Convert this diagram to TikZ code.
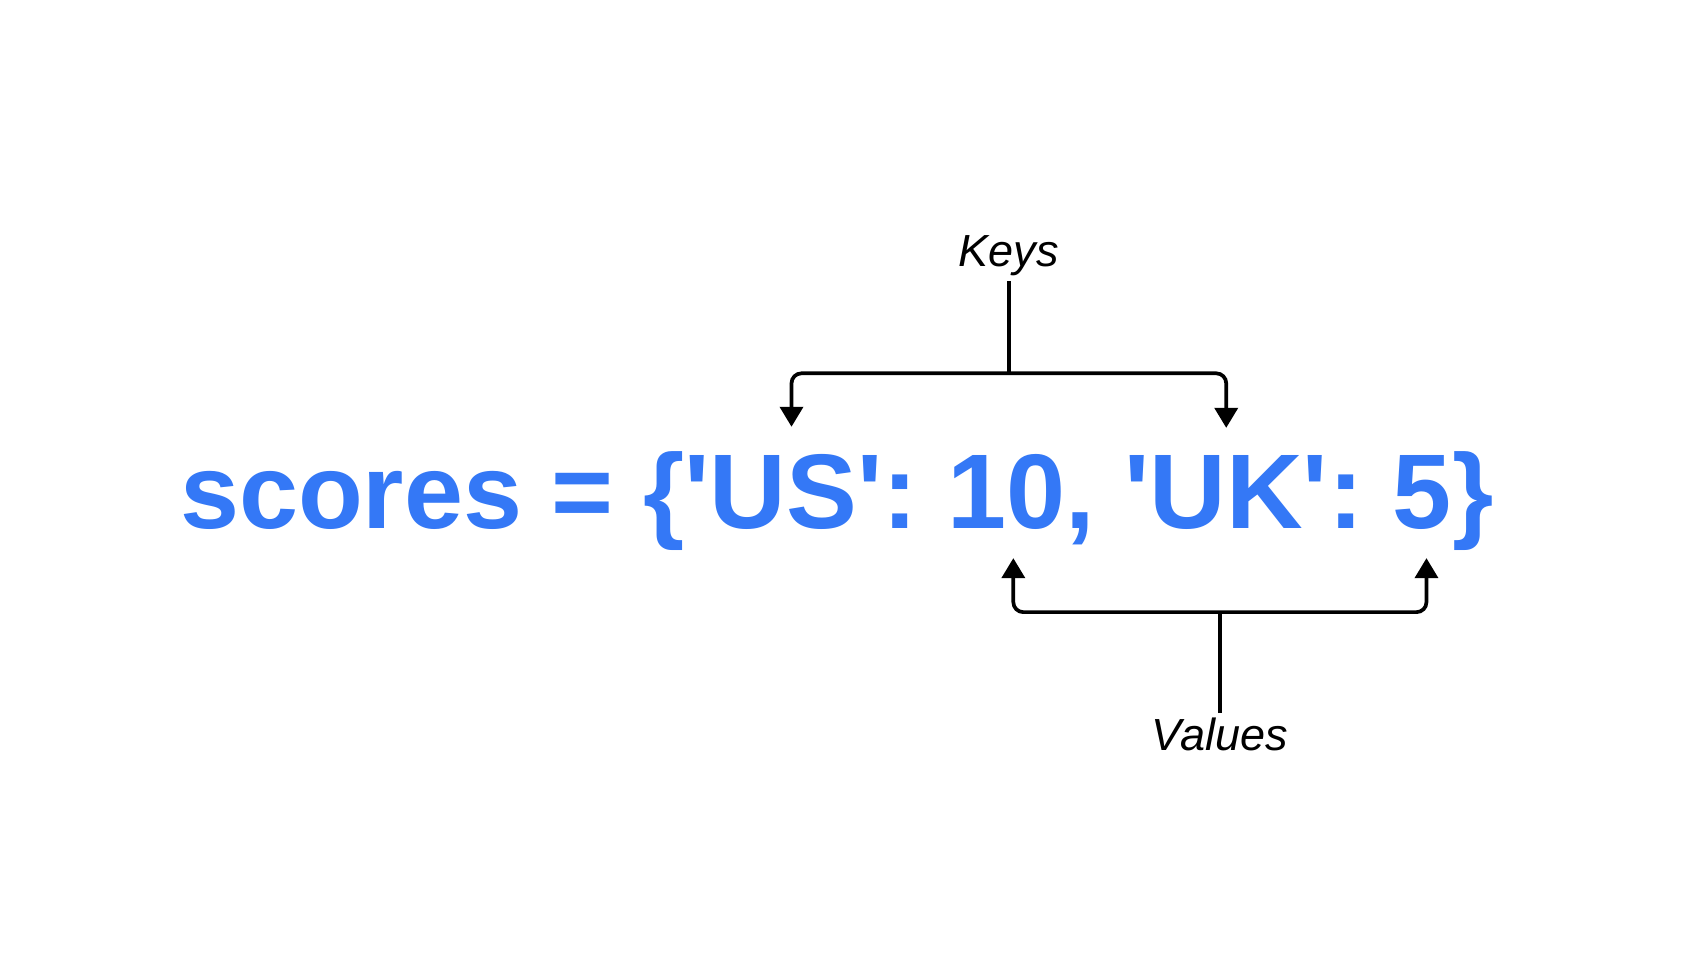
\documentclass[tikz,border=0pt]{standalone}
\usepackage{fontspec}
\setmainfont{Liberation Sans}
\usetikzlibrary{positioning, arrows.meta}
\definecolor{codeblue}{HTML}{3478F6}

\begin{document}
\begin{tikzpicture}[
    >={Triangle[length=0.2cm, width=0.23cm]},
    tok/.style={inner sep=0pt, outer xsep=0pt, outer ysep=8pt, anchor=base west,
        font=\fontsize{30.2}{36}\selectfont\bfseries, text=codeblue},
    lbl/.style={inner sep=0pt, outer sep=0.05cm,
        font=\fontsize{12.8}{15}\selectfont\itshape},
    link/.style={line width=1.05pt, rounded corners=0.1cm},
]
\fill[white] (0,0) rectangle (16.86,9.58);
\useasboundingbox (0,0) rectangle (16.86,9.58);

% the dictionary, one token per node
\node[tok] (lhs) at (1.80,4.29) {scores = \{};
\node[tok] (k1) at (lhs.base east) {\textquotesingle US\textquotesingle};
\node[tok] (c1) at (k1.base east) {:\ \mbox{}};
\node[tok] (v1) at (c1.base east) {10};
\node[tok] (c2) at (v1.base east) {,\ \mbox{}};
\node[tok] (k2) at (c2.base east) {\textquotesingle UK\textquotesingle};
\node[tok] (c3) at (k2.base east) {:\ \mbox{}};
\node[tok] (v2) at (c3.base east) {5};
\node[tok] (rhs) at (v2.base east) {\}};

% keys
\coordinate (kl) at ([xshift=0.08cm]k1.north);
\path (kl) -- coordinate[pos=0.5] (kmid) (k2.north);
\coordinate[above=0.54cm of kmid] (kbar);
\node[lbl, above=0.92cm of kbar] (keys) {Keys};
\draw[link] (keys) -- (kbar);
\draw[link, <->] (kl) |- (kbar) -| (k2.north);

% values
\coordinate (vl) at ([xshift=0.07cm]v1.south);
\coordinate (vr) at ([xshift=0.04cm]v2.south);
\path (vl) -- coordinate[pos=0.5] (vmid) (vr);
\coordinate[below=0.54cm of vmid] (vbar);
\node[lbl, below=1.01cm of vbar] (vals) {Values};
\draw[link] (vals) -- (vbar);
\draw[link, <->] (vl) |- (vbar) -| (vr);

\end{tikzpicture}
\end{document}
